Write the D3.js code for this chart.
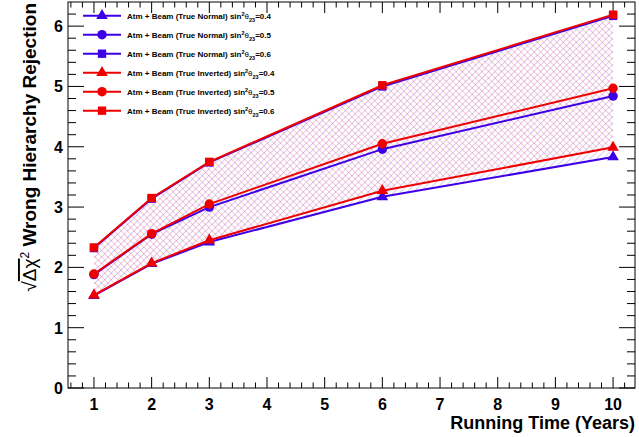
<!DOCTYPE html>
<meta charset="utf-8">
<style>
    body { margin: 0; background: #fff; }
    text { font-family: "Liberation Sans", Arial, sans-serif; font-weight: bold; }
</style>
<svg width="639" height="437"></svg>
<script src="https://cdn.jsdelivr.net/npm/d3@7"></script>
<script>

    // running time in years
    var years = [1, 2, 3, 6, 10];

    // sqrt(delta chi2)
    var normal04 = [1.53, 2.06, 2.42, 3.17, 3.83];
    var normal05 = [1.88, 2.55, 3.00, 3.96, 4.84];
    var normal06 = [2.32, 3.14, 3.74, 5.00, 6.17];
    var inverted04 = [1.54, 2.07, 2.45, 3.27, 3.99];
    var inverted05 = [1.89, 2.56, 3.05, 4.05, 4.97];
    var inverted06 = [2.33, 3.15, 3.75, 5.02, 6.19];

    var xTicks = [1, 2, 3, 4, 5, 6, 7, 8, 9, 10];
    var yTicks = [0, 1, 2, 3, 4, 5, 6];

    var blue = "#3d00e6", red = "#ee0000";

    var series = [
        {label: "Atm + Beam (True Normal) ", s: "0.4", vals: normal04, color: blue, shape: d3.symbolTriangle},
        {label: "Atm + Beam (True Normal) ", s: "0.5", vals: normal05, color: blue, shape: d3.symbolCircle},
        {label: "Atm + Beam (True Normal) ", s: "0.6", vals: normal06, color: blue, shape: d3.symbolSquare},
        {label: "Atm + Beam (True Inverted) ", s: "0.4", vals: inverted04, color: red, shape: d3.symbolTriangle},
        {label: "Atm + Beam (True Inverted) ", s: "0.5", vals: inverted05, color: red, shape: d3.symbolCircle},
        {label: "Atm + Beam (True Inverted) ", s: "0.6", vals: inverted06, color: red, shape: d3.symbolSquare}
    ];

    var svg = d3.select("svg");
    var pLeft = 68, pRight = 635, pTop = 2, pBottom = 388;

    var x = d3.scaleLinear().domain([0.55, 10.38]).range([pLeft, pRight]);
    var y = d3.scaleLinear().domain([0, 6.4]).range([pBottom, pTop]);

    var markerSize = function (shape) { return shape === d3.symbolTriangle ? 58 : 70; };

    // hatch patterns
    var defs = svg.append("defs");
    var hatch = function (id, color, angle) {
        var p = defs.append("pattern")
            .attr("id", id)
            .attr("patternUnits", "userSpaceOnUse")
            .attr("width", 4.6).attr("height", 4.6)
            .attr("patternTransform", "rotate(" + angle + ")");
        p.append("line")
            .attr("x1", 0).attr("y1", 0).attr("x2", 0).attr("y2", 4.6)
            .attr("stroke", color).attr("stroke-width", 0.9).attr("stroke-opacity", 0.45);
    };
    hatch("hatchBlue", blue, 45);
    hatch("hatchRed", red, -45);

    var band = d3.area()
        .x(function (d) { return x(d.t); })
        .y0(function (d) { return y(d.lo); })
        .y1(function (d) { return y(d.hi); });

    var bandData = function (lo, hi) {
        return years.map(function (t, i) { return {t: t, lo: lo[i], hi: hi[i]}; });
    };

    svg.append("path").attr("d", band(bandData(normal04, normal06))).attr("fill", "url(#hatchBlue)");
    svg.append("path").attr("d", band(bandData(inverted04, inverted06))).attr("fill", "url(#hatchRed)");

    // frame
    svg.append("rect")
        .attr("x", pLeft).attr("y", pTop)
        .attr("width", pRight - pLeft).attr("height", pBottom - pTop)
        .attr("fill", "none").attr("stroke", "#000").attr("stroke-width", 1);

    // ticks on all four sides, pointing inward
    var ticks = svg.append("g").attr("stroke", "#000").attr("stroke-width", 1);
    d3.range(0.6, 10.38, 0.2).forEach(function (v) {
        var major = Math.abs(v - Math.round(v)) < 0.01;
        var len = major ? 11 : 5.5;
        ticks.append("line").attr("x1", x(v)).attr("x2", x(v)).attr("y1", pBottom).attr("y2", pBottom - len);
        ticks.append("line").attr("x1", x(v)).attr("x2", x(v)).attr("y1", pTop).attr("y2", pTop + len);
    });
    d3.range(0, 6.39, 0.2).forEach(function (v) {
        var major = Math.abs(v - Math.round(v)) < 0.01;
        var len = major ? 16 : 8;
        ticks.append("line").attr("x1", pLeft).attr("x2", pLeft + len).attr("y1", y(v)).attr("y2", y(v));
        ticks.append("line").attr("x1", pRight).attr("x2", pRight - len).attr("y1", y(v)).attr("y2", y(v));
    });

    // tick labels
    svg.append("g").selectAll("text").data(xTicks).enter().append("text")
        .attr("x", function (d) { return x(d); })
        .attr("y", 410)
        .attr("text-anchor", "middle")
        .style("font-size", "16px")
        .text(function (d) { return d; });

    svg.append("g").selectAll("text").data(yTicks).enter().append("text")
        .attr("x", 63)
        .attr("y", function (d) { return y(d) + 6; })
        .attr("text-anchor", "end")
        .style("font-size", "16px")
        .text(function (d) { return d; });

    // axis titles
    svg.append("text")
        .attr("x", pRight).attr("y", 429)
        .attr("text-anchor", "end")
        .style("font-size", "18px")
        .text("Running Time (Years)");

    var ytitle = svg.append("text")
        .attr("transform", "translate(36,3) rotate(-90)")
        .attr("text-anchor", "end")
        .style("font-size", "19px");
    ytitle.append("tspan").style("font-weight", "normal").text("\u221A");
    ytitle.append("tspan").style("font-weight", "normal").style("text-decoration", "overline").text("\u0394\u03C7");
    ytitle.append("tspan").attr("dy", -7).style("font-size", "12px").style("font-weight", "normal").text("2");
    ytitle.append("tspan").attr("dy", 7).text(" Wrong Hierarchy Rejection");

    // lines and markers
    var line = d3.line()
        .x(function (d, i) { return x(years[i]); })
        .y(function (d) { return y(d); });

    series.forEach(function (s) {
        svg.append("path")
            .attr("d", line(s.vals))
            .attr("fill", "none")
            .attr("stroke", s.color)
            .attr("stroke-width", 2);
        svg.append("g").selectAll("path").data(s.vals).enter().append("path")
            .attr("transform", function (d, i) { return "translate(" + x(years[i]) + "," + y(d) + ")"; })
            .attr("d", d3.symbol().type(s.shape).size(markerSize(s.shape)))
            .attr("fill", s.color);
    });

    // legend
    var legend = svg.append("g");
    series.forEach(function (s, i) {
        var ly = 15.7 + i * 19;
        var g = legend.append("g").attr("transform", "translate(0," + ly + ")");
        g.append("line").attr("x1", 83).attr("x2", 121).attr("y1", 0).attr("y2", 0)
            .attr("stroke", s.color).attr("stroke-width", 2);
        g.append("path").attr("transform", "translate(102,0)")
            .attr("d", d3.symbol().type(s.shape).size(markerSize(s.shape)))
            .attr("fill", s.color);
        var t = g.append("text").attr("x", 127).attr("y", 3).style("font-size", "8px");
        t.append("tspan").text(s.label + "sin");
        t.append("tspan").attr("dy", -3).style("font-size", "5.5px").text("2");
        t.append("tspan").attr("dy", 3).style("font-weight", "normal").text("\u03B8");
        t.append("tspan").attr("dy", 3).style("font-size", "5.5px").text("23");
        t.append("tspan").attr("dy", -3).text("=" + s.s);
    });

</script>
